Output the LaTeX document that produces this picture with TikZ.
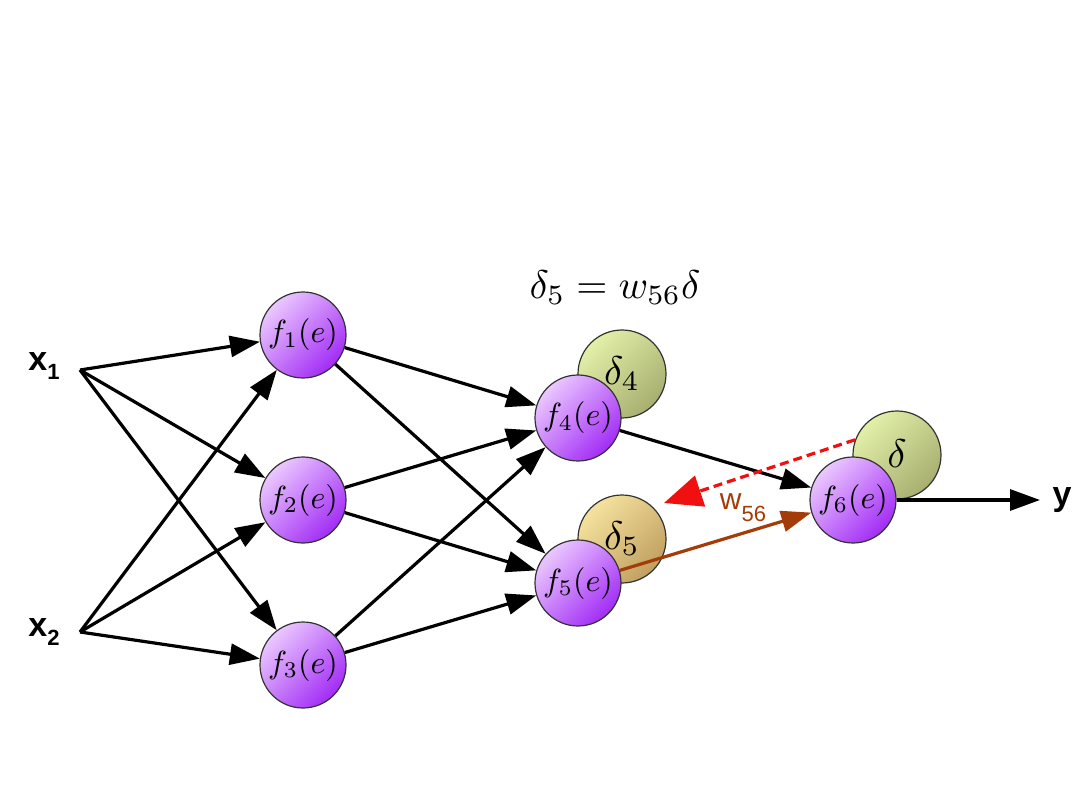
\documentclass[tikz,border=0pt]{standalone}
\usepackage{graphicx}
\usepackage{fontspec}
\setsansfont{Liberation Sans}
\usetikzlibrary{arrows.meta}
\definecolor{plight}{HTML}{EBC8FF}
\definecolor{pdark}{HTML}{A22CF6}
\definecolor{glight}{HTML}{E2F0A8}
\definecolor{gdark}{HTML}{A8AE70}
\definecolor{ylight}{HTML}{F6E2A0}
\definecolor{ydark}{HTML}{C0A060}
\definecolor{brownarr}{HTML}{A33C08}
\definecolor{redarr}{HTML}{F01010}
\newcommand{\scmath}[2]{\scalebox{#1}{$#2$}}
\begin{document}
\begin{tikzpicture}[x=1pt,y=-1pt,
  neuron/.style={circle,draw=black!80,line width=1.2pt,minimum size=86pt,inner sep=0pt,
    top color=plight,bottom color=pdark,shading angle=45},
  gball/.style={circle,draw=black!80,line width=1.2pt,minimum size=88pt,inner sep=0pt,
    top color=glight,bottom color=gdark,shading angle=45},
  yball/.style={gball,top color=ylight,bottom color=ydark,shading angle=45},
  conn/.style={line width=3.2pt,-{Triangle[length=30pt,width=21pt]}},
  lbl/.style={font=\sffamily\bfseries\fontsize{34}{36}\selectfont}
]
\useasboundingbox (0,0) rectangle (1080,810);
% delta balls (behind)
\node[gball] (d4) at (622,374) {\raisebox{3pt}{\scmath{4}{\delta_4}}};
\node[yball] (d5) at (622,539) {\raisebox{3pt}{\scmath{4}{\delta_5}}};
\node[gball] (d6) at (897,455) {\raisebox{3pt}{\scmath{4}{\delta}}};
% neurons
\node[neuron] (f1) at (303,335) {\scmath{3.2}{f_1(e)}};
\node[neuron] (f2) at (303,500) {\scmath{3.2}{f_2(e)}};
\node[neuron] (f3) at (303,665) {\scmath{3.2}{f_3(e)}};
\node[neuron] (f4) at (578,418) {\scmath{3.2}{f_4(e)}};
\node[neuron] (f5) at (578,583) {\scmath{3.2}{f_5(e)}};
\node[neuron] (f6) at (853,500) {\scmath{3.2}{f_6(e)}};
% labels
\node[lbl,anchor=center] (x1) at (44,366) {x\raisebox{-9pt}{\fontsize{22}{22}\selectfont 1}};
\node[lbl,anchor=center] (x2) at (44,632) {x\raisebox{-9pt}{\fontsize{22}{22}\selectfont 2}};
\node[lbl,anchor=center] (y) at (1062,500) {y};
\coordinate (s1) at (80,370);
\coordinate (s2) at (80,632);
\coordinate (yend) at (1040,500);
\coordinate (redend) at (664,503);
% connectors
\draw[conn] (s1) -- (f1);
\draw[conn] (s1) -- (f2);
\draw[conn] (s1) -- (f3);
\draw[conn] (s2) -- (f1);
\draw[conn] (s2) -- (f2);
\draw[conn] (s2) -- (f3);
\draw[conn] (f1) -- (f4);
\draw[conn] (f1) -- (f5);
\draw[conn] (f2) -- (f4);
\draw[conn] (f2) -- (f5);
\draw[conn] (f3) -- (f4);
\draw[conn] (f3) -- (f5);
\draw[conn] (f4) -- (f6);
\draw[conn,draw=brownarr,fill=brownarr] (f5) -- (f6);
\draw[conn] (f6) -- (yend);
\draw[line width=3.2pt,draw=redarr,dash pattern=on 9pt off 5pt,
  -{Triangle[length=38pt,width=32pt,fill=redarr,sep=0pt]}] (d6.160) -- (redend);
% texts
\node[text=brownarr,font=\sffamily\fontsize{30}{30}\selectfont] (w) at (743,508)
  {w\raisebox{-12pt}{\fontsize{22}{22}\selectfont 56}};
\node (eq) at (615,288) {\scmath{4}{\delta_5 = w_{56}\delta}};
\end{tikzpicture}
\end{document}
